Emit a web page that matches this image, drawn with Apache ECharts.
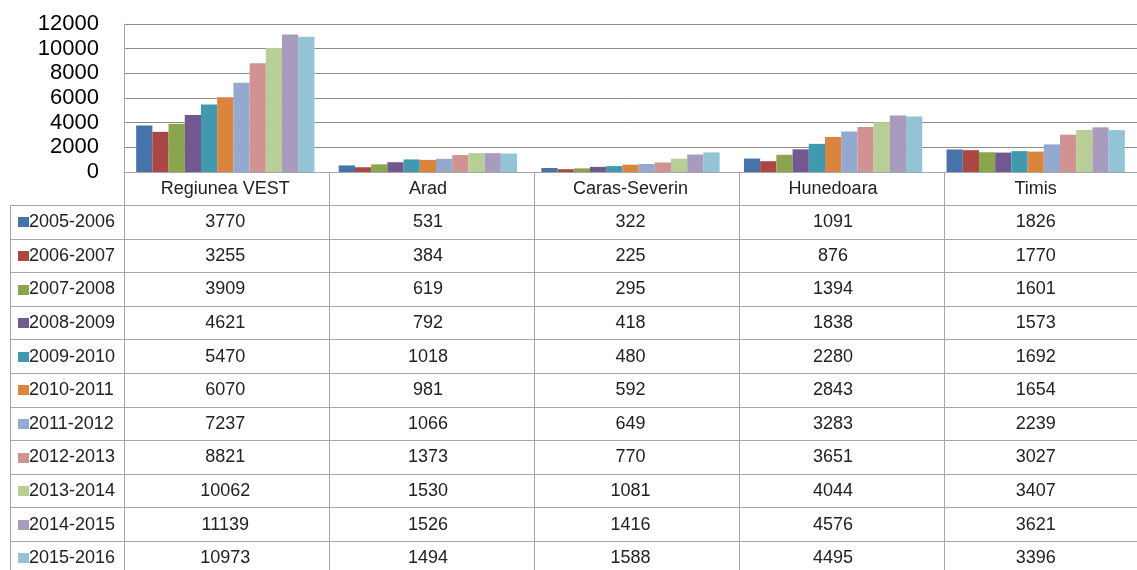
<!DOCTYPE html>
<html>
<head>
<meta charset="utf-8">
<script src="https://cdn.jsdelivr.net/npm/echarts@6/dist/echarts.min.js"></script>
<style>html,body{margin:0;padding:0;background:#fff}#c{width:1137px;height:570px}</style>
</head>
<body>
<div id="c"></div>
<script>
var categories = ['Regiunea VEST', 'Arad', 'Caras-Severin', 'Hunedoara', 'Timis'];
var seriesNames = ['2005-2006','2006-2007','2007-2008','2008-2009','2009-2010','2010-2011','2011-2012','2012-2013','2013-2014','2014-2015','2015-2016'];
var s2005 = [3770, 531, 322, 1091, 1826];
var s2006 = [3255, 384, 225, 876, 1770];
var s2007 = [3909, 619, 295, 1394, 1601];
var s2008 = [4621, 792, 418, 1838, 1573];
var s2009 = [5470, 1018, 480, 2280, 1692];
var s2010 = [6070, 981, 592, 2843, 1654];
var s2011 = [7237, 1066, 649, 3283, 2239];
var s2012 = [8821, 1373, 770, 3651, 3027];
var s2013 = [10062, 1530, 1081, 4044, 3407];
var s2014 = [11139, 1526, 1416, 4576, 3621];
var s2015 = [10973, 1494, 1588, 4495, 3396];
var yTicks = [0, 2000, 4000, 6000, 8000, 10000, 12000];

var seriesValues = [s2005, s2006, s2007, s2008, s2009, s2010, s2011, s2012, s2013, s2014, s2015];
var colors = ['#4673A9','#AA4744','#89A54E','#71588F','#4199AF','#DB843D','#93A9D0','#D19392','#B9CD97','#A99BBD','#92C4D6'];

var GRID_LEFT = 124, GRID_TOP = 24, GRID_H = 148, COL_W = 205;
var ROW_TOP = 205, ROW_H = 33.6;
var LINE_COLOR = '#a6a6a6';
var FONT = '18px "Liberation Sans", Arial, sans-serif';

var chart = echarts.init(document.getElementById('c'), null, {renderer: 'canvas'});

var series = seriesNames.map(function (n, i) {
  return {
    name: n, type: 'bar', data: seriesValues[i],
    barGap: '0%', barCategoryGap: '12%',
    itemStyle: {color: colors[i]}
  };
});

var option = {
  animation: false,
  backgroundColor: '#fff',
  color: colors,
  grid: {left: GRID_LEFT, top: GRID_TOP, height: GRID_H, width: COL_W * categories.length, containLabel: false},
  xAxis: {
    type: 'category', data: categories,
    axisLine: {show: true, lineStyle: {color: LINE_COLOR, width: 1}},
    axisTick: {show: false},
    axisLabel: {color: '#222', fontSize: 18, fontFamily: '"Liberation Sans", Arial, sans-serif', margin: 8, interval: 0}
  },
  yAxis: {
    type: 'value', min: yTicks[0], max: yTicks[yTicks.length - 1], interval: 2000,
    axisLine: {show: true, lineStyle: {color: LINE_COLOR, width: 1}},
    axisTick: {show: false},
    splitLine: {show: true, lineStyle: {color: '#8c8c8c', width: 1}},
    axisLabel: {color: '#000', fontSize: 22, fontFamily: '"Liberation Sans", Arial, sans-serif', margin: 25,
      formatter: function (v) { return String(v); }}
  },
  series: series
};
chart.setOption(option);

// Data table below the axis
var graphics = [];
var nRows = seriesNames.length;
var bottomY = ROW_TOP + ROW_H * nRows;
var rightX = GRID_LEFT + COL_W * categories.length;
function line(x1, y1, x2, y2) {
  graphics.push({type: 'line', silent: true, shape: {x1: x1, y1: y1, x2: x2, y2: y2},
    style: {stroke: LINE_COLOR, lineWidth: 1}, z: 10});
}
// vertical lines
line(GRID_LEFT + 0.5, GRID_TOP + GRID_H, GRID_LEFT + 0.5, bottomY);
line(10.5, ROW_TOP, 10.5, bottomY);
for (var c = 1; c <= categories.length; c++) {
  var x = Math.round(GRID_LEFT + COL_W * c) + 0.5;
  line(x, GRID_TOP + GRID_H, x, bottomY);
}
// horizontal lines
for (var r = 0; r <= nRows; r++) {
  var y = Math.round(ROW_TOP + ROW_H * r) + 0.5;
  line(10, y, rightX, y);
}
// rows
for (var r = 0; r < nRows; r++) {
  var cy = ROW_TOP + ROW_H * r + ROW_H / 2 + 0.5;
  graphics.push({type: 'rect', silent: true, shape: {x: 18, y: Math.round(cy - 5), width: 11, height: 10},
    style: {fill: colors[r]}, z: 11});
  graphics.push({type: 'text', silent: true, x: 29, y: cy,
    style: {text: seriesNames[r], font: FONT, fill: '#222', textAlign: 'left', textVerticalAlign: 'middle'}, z: 11});
  for (var c = 0; c < categories.length; c++) {
    var px = chart.convertToPixel({xAxisIndex: 0}, categories[c]);
    graphics.push({type: 'text', silent: true, x: px, y: cy,
      style: {text: String(seriesValues[r][c]), font: FONT, fill: '#222', textAlign: 'center', textVerticalAlign: 'middle'}, z: 11});
  }
}
chart.setOption({graphic: graphics});
</script>
</body>
</html>
